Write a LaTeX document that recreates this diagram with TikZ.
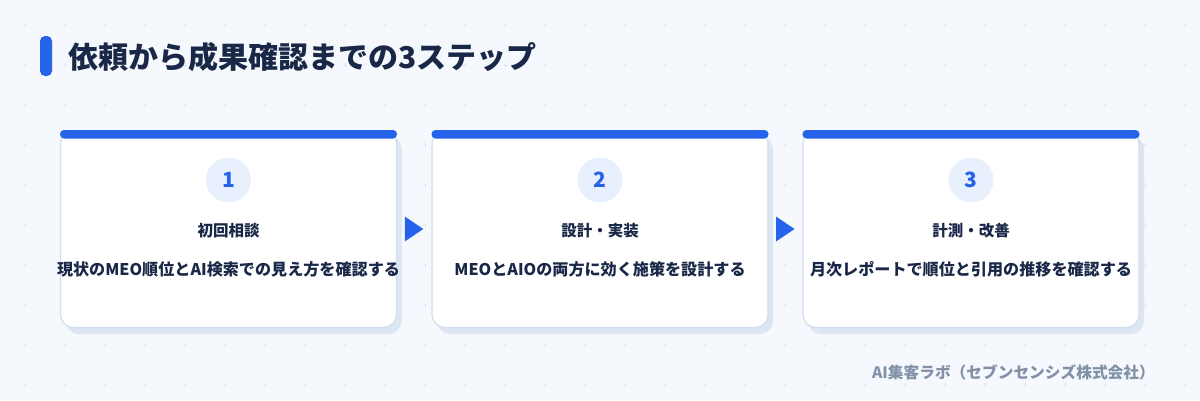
\documentclass[tikz,border=0pt]{standalone}
\usepackage{fontspec}
\setmainfont{Noto Sans CJK JP}
\usetikzlibrary{positioning,calc}
\definecolor{pagebg}{HTML}{F5F8FC}
\definecolor{gridmark}{HTML}{DDE4F0}
\definecolor{accent}{HTML}{2563EB}
\definecolor{ink}{HTML}{1A2848}
\definecolor{cardline}{HTML}{D3DEEE}
\definecolor{cardshade}{HTML}{DCE5F2}
\definecolor{badgebg}{HTML}{E8F0FD}
\definecolor{footgrey}{HTML}{8391A8}

\begin{document}
\begin{tikzpicture}
  [x=1pt,y=-1pt,
   card/.style={draw=cardline, line width=1.2pt, fill=white, rounded corners=13pt,
     minimum width=336pt, minimum height=197pt, inner sep=0pt},
   badge/.style={circle, fill=badgebg, minimum size=45pt, inner sep=0pt,
     text=accent, font=\bfseries\fontsize{21}{21}\selectfont},
   steptitle/.style={text=ink, font=\bfseries\fontsize{15.5}{16}\selectfont},
   stepdesc/.style={text=ink, font=\bfseries\fontsize{16.1}{17}\selectfont}]
  \useasboundingbox (0,0) rectangle (1200,400);
  \fill[pagebg] (0,0) rectangle (1200,400);
  \foreach \i in {0,...,29}
    \foreach \j in {0,...,9}
      \draw[gridmark, line width=0.6pt] (25+40*\i-2,25+40*\j) -- ++(4,0)
        (25+40*\i,25+40*\j-2) -- ++(0,4);

  % heading
  \fill[accent, rounded corners=5pt] (40,36) rectangle (52,76);
  \node (head) [anchor=west, text=ink, inner sep=0pt,
    font=\bfseries\fontsize{30}{31}\selectfont] at (68,57) {依頼から成果確認までの3ステップ};

  % cards
  \foreach \n/\x in {1/228.5, 2/600, 3/971} {
    \fill[cardshade, rounded corners=13pt] (\x-168+5,130+6) rectangle (\x+168+5,328+6);
    \node (c\n) [card] at (\x,229) {};
    \fill[accent, rounded corners=4pt] (\x-168.5,130) rectangle (\x+168.5,138.5);
    \node (b\n) [badge] at (\x,180) {\n};
  }

  \node (t1) [steptitle] at (228.5,231) {初回相談};
  \node (d1) [stepdesc]  at (228.5,269) {現状のMEO順位とAI検索での見え方を確認する};
  \node (t2) [steptitle] at (600,231) {設計・実装};
  \node (d2) [stepdesc]  at (600,269) {MEOとAIOの両方に効く施策を設計する};
  \node (t3) [steptitle] at (971,231) {計測・改善};
  \node (d3) [stepdesc]  at (971,269) {月次レポートで順位と引用の推移を確認する};

  % arrows between cards
  \foreach \from/\to in {c1/c2, c2/c3} {
    \coordinate (m) at ($(\from.east)!0.5!(\to.west)$);
    \fill[accent] (m) ++(-9.5,-12.5) -- ++(18.5,12.5) -- ++(-18.5,12.5) -- cycle;
  }

  \node (foot) [anchor=east, text=footgrey, inner sep=0pt,
    font=\bfseries\fontsize{15.7}{16}\selectfont] at (1155,372) {AI集客ラボ（セブンセンシズ株式会社）};
\end{tikzpicture}
\end{document}
